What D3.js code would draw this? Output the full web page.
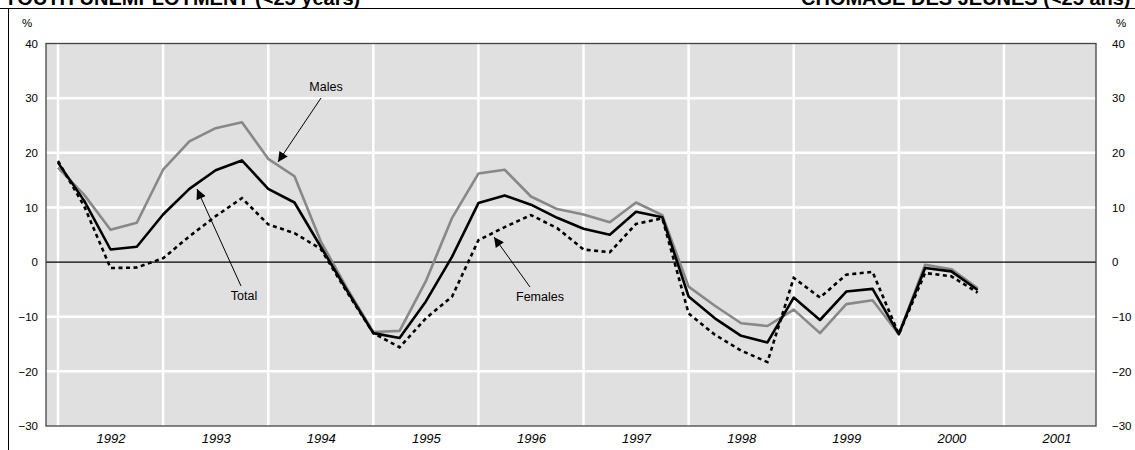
<!DOCTYPE html>
<html><head><meta charset="utf-8">
<script src="https://cdn.jsdelivr.net/npm/d3@7"></script>
<style>
html,body{margin:0;padding:0;background:#fff;}
svg{display:block;font-family:Arial,"Liberation Sans",sans-serif;}
</style></head>
<body><svg id="c" width="1135" height="450"></svg>
<script>
const periods = ["1992Q1","1992Q2","1992Q3","1992Q4","1993Q1","1993Q2","1993Q3","1993Q4",
"1994Q1","1994Q2","1994Q3","1994Q4","1995Q1","1995Q2","1995Q3","1995Q4",
"1996Q1","1996Q2","1996Q3","1996Q4","1997Q1","1997Q2","1997Q3","1997Q4",
"1998Q1","1998Q2","1998Q3","1998Q4","1999Q1","1999Q2","1999Q3","1999Q4",
"2000Q1","2000Q2","2000Q3","2000Q4"];
const males   = [17.3, 12.3, 5.9, 7.2, 16.9, 22.1, 24.5, 25.6, 18.9, 15.7, 3.8, -4.8, -12.8, -12.6, -3.5, 8.1, 16.2, 16.9, 12.0, 9.7, 8.7, 7.3, 10.9, 8.6, -4.5, -8.0, -11.2, -11.7, -8.7, -13.0, -7.7, -7.0, -13.2, -0.5, -1.3, -4.8];
const total   = [18.2, 11.2, 2.3, 2.8, 8.7, 13.4, 16.8, 18.6, 13.4, 10.9, 2.8, -5.2, -13.0, -13.9, -7.2, 1.0, 10.8, 12.2, 10.5, 8.1, 6.1, 5.0, 9.2, 8.2, -6.3, -10.3, -13.5, -14.7, -6.5, -10.6, -5.4, -4.9, -13.2, -1.1, -1.7, -5.1];
const females = [18.5, 10.2, -1.1, -1.0, 0.7, 4.7, 8.4, 11.7, 6.9, 5.3, 2.4, -5.5, -13.0, -15.6, -10.3, -6.3, 4.0, 6.4, 8.6, 6.2, 2.3, 1.8, 7.0, 8.0, -9.4, -13.3, -16.2, -18.3, -2.9, -6.5, -2.3, -1.8, -13.2, -2.0, -2.6, -5.6];
const yearLabels = ["1992","1993","1994","1995","1996","1997","1998","1999","2000","2001"];
const yTicks = [40,30,20,10,0,-10,-20,-30];
const titleEn = "YOUTH UNEMPLOYMENT (<25 years)";
const titleFr = "CHÔMAGE DES JEUNES (<25 ans)";

const svg = d3.select("#c");
const L = 46, R = 1096, T = 43.5, B = 426;
const toT = p => +p.slice(0,4) + (+p.slice(5)-1)/4;
const x = d3.scaleLinear().domain([1991.886, 2001.876]).range([L, R]);
const y = d3.scaleLinear().domain([-30, 40]).range([B, T]);

// outer frame
svg.append("line").attr("x1",0).attr("x2",1135).attr("y1",8.5).attr("y2",8.5).attr("stroke","#000").attr("stroke-width",1);
svg.append("line").attr("x1",8.5).attr("x2",8.5).attr("y1",8.5).attr("y2",450).attr("stroke","#000").attr("stroke-width",1);

// titles (clipped at top, as in the source)
svg.append("text").attr("x",4).attr("y",5).attr("font-size",20).attr("font-weight","bold").text(titleEn);
svg.append("text").attr("x",801).attr("y",5).attr("font-size",20).attr("font-weight","bold").text(titleFr);

// plot background
svg.append("rect").attr("x",L).attr("y",T).attr("width",R-L).attr("height",B-T).attr("fill","#e0e0e0");

// grid
yTicks.filter(v=>v!==0 && v!==40 && v!==-30).forEach(v=>{
  svg.append("line").attr("x1",L).attr("x2",R).attr("y1",y(v)).attr("y2",y(v)).attr("stroke","#fff").attr("stroke-width",2.5);
});
yearLabels.forEach(yr=>{
  svg.append("line").attr("x1",x(+yr)).attr("x2",x(+yr)).attr("y1",T).attr("y2",B).attr("stroke","#fff").attr("stroke-width",2.5);
});
// zero line
svg.append("line").attr("x1",L).attr("x2",R).attr("y1",y(0)).attr("y2",y(0)).attr("stroke","#000").attr("stroke-width",1.2);

// border
svg.append("rect").attr("x",L).attr("y",T).attr("width",R-L).attr("height",B-T).attr("fill","none").attr("stroke","#444").attr("stroke-width",1.3);

// axes
const yl = svg.append("g").attr("transform",`translate(${L-8},0)`).call(d3.axisLeft(y).tickValues(yTicks).tickSize(0).tickPadding(0));
const yr_ = svg.append("g").attr("transform",`translate(${R+16},0)`).call(d3.axisRight(y).tickValues(yTicks).tickSize(0).tickPadding(0));
[yl,yr_].forEach(g=>{g.select(".domain").remove(); g.selectAll("text").attr("font-size",11.5).attr("font-family","Arial,'Liberation Sans',sans-serif").attr("fill","#000");});
svg.append("text").attr("x",27).attr("y",27).attr("text-anchor","middle").attr("font-size",11.5).text("%");
svg.append("text").attr("x",1121).attr("y",27).attr("text-anchor","middle").attr("font-size",11.5).text("%");

const xb = svg.append("g").attr("transform",`translate(0,${B})`)
  .call(d3.axisBottom(x).tickValues(yearLabels.map(v=>+v+0.5)).tickSize(0).tickPadding(8).tickFormat((d,i)=>yearLabels[i]));
xb.select(".domain").remove();
xb.selectAll("text").attr("font-size",13).attr("font-style","italic").attr("font-family","Arial,'Liberation Sans',sans-serif").attr("fill","#000");

// lines
const line = d3.line().x((d,i)=>x(toT(periods[i]))).y(d=>y(d));
svg.append("path").datum(males).attr("d",line).attr("fill","none").attr("stroke","#888").attr("stroke-width",2.6).attr("stroke-linejoin","round");
svg.append("path").datum(total).attr("d",line).attr("fill","none").attr("stroke","#000").attr("stroke-width",2.6).attr("stroke-linejoin","round");
svg.append("path").datum(females).attr("d",line).attr("fill","none").attr("stroke","#000").attr("stroke-width",2.6).attr("stroke-dasharray","4,3.5");

// annotations
svg.append("defs").append("marker").attr("id","ah").attr("viewBox","0 0 10 10").attr("refX",10).attr("refY",5)
  .attr("markerWidth",12).attr("markerHeight",10).attr("markerUnits","userSpaceOnUse").attr("orient","auto")
  .append("path").attr("d","M0,0 L10,5 L0,10 Z").attr("fill","#000");
const ann = [
  {t:"Males", tx:326, ty:91, x1:321, y1:98, x2:278, y2:162},
  {t:"Total", tx:244, ty:300, x1:241, y1:286, x2:197, y2:189},
  {t:"Females", tx:540, ty:301, x1:530, y1:287, x2:494, y2:237}
];
ann.forEach(a=>{
  svg.append("line").attr("x1",a.x1).attr("y1",a.y1).attr("x2",a.x2).attr("y2",a.y2).attr("stroke","#000").attr("stroke-width",1).attr("marker-end","url(#ah)");
  svg.append("text").attr("x",a.tx).attr("y",a.ty).attr("text-anchor","middle").attr("font-size",12.5).text(a.t);
});
</script></body></html>
